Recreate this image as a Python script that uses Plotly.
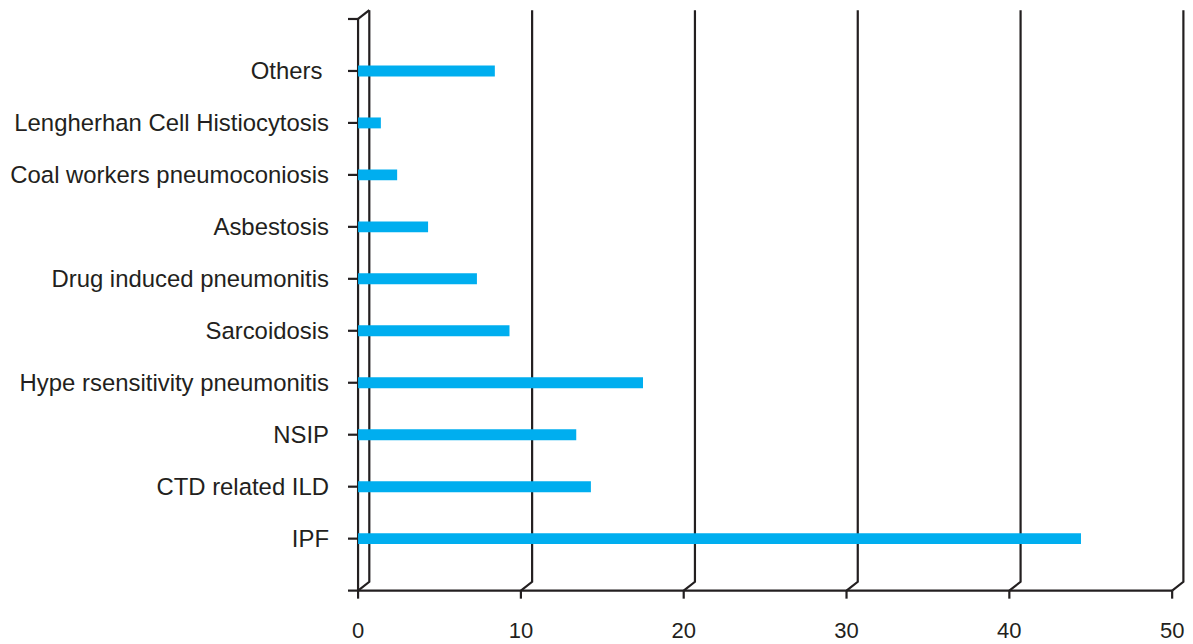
import plotly.graph_objects as go

# Diagnoses, bottom to top, with the share of cases (%) for each
categories = [
    "IPF",
    "CTD related ILD",
    "NSIP",
    "Hype rsensitivity pneumonitis",
    "Sarcoidosis",
    "Drug induced pneumonitis",
    "Asbestosis",
    "Coal workers pneumoconiosis",
    "Lengherhan Cell Histiocytosis",
    "Others\u00a0",
]
values = [44.4, 14.3, 13.4, 17.5, 9.3, 7.3, 4.3, 2.4, 1.4, 8.4]
x_ticks = [0, 10, 20, 30, 40, 50]

INK = "#231f20"
BAR = "#00aeef"
FONT = "Liberation Sans, Arial, sans-serif"

positions = list(range(len(categories)))
y_lo, y_hi = -1, len(categories)          # category slots incl. one empty slot below
depth_x, depth_y = 0.69, 0.17             # pseudo-3D offset of the back wall
x_tick_len, y_tick_len = 0.155, 0.62      # tick lengths in axis units

line = dict(color=INK, width=2.2)
shapes = []

# floor edge (x axis) and left wall edge (y axis)
shapes.append(dict(type="line", xref="x", yref="y", layer="below",
                   x0=x_ticks[0], x1=x_ticks[-1], y0=y_lo, y1=y_lo, line=line))
shapes.append(dict(type="line", xref="x", yref="y", layer="below",
                   x0=0, x1=0, y0=y_lo, y1=y_hi, line=line))
# top corner connecting the axis to the back wall
shapes.append(dict(type="line", xref="x", yref="y", layer="below",
                   x0=0, x1=depth_x, y0=y_hi, y1=y_hi + depth_y, line=line))

for t in x_ticks:
    # back-wall gridline with its perspective foot
    shapes.append(dict(
        type="path", xref="x", yref="y", layer="below", line=line,
        path=(f"M {t},{y_lo} L {t + depth_x},{y_lo + depth_y} "
              f"L {t + depth_x},{y_hi + depth_y}"),
    ))
    # tick mark under the floor edge
    shapes.append(dict(type="line", xref="x", yref="y", layer="below",
                       x0=t, x1=t, y0=y_lo, y1=y_lo - x_tick_len, line=line))

for p in range(y_lo, y_hi + 1):
    shapes.append(dict(type="line", xref="x", yref="y", layer="below",
                       x0=0, x1=-y_tick_len, y0=p, y1=p, line=line))

fig = go.Figure(go.Bar(
    x=values,
    y=positions,
    orientation="h",
    width=0.21,
    marker=dict(color=BAR, line=dict(width=0)),
    hoverinfo="x+text",
    text=categories,
    textposition="none",
))

fig.update_layout(
    width=1193,
    height=644,
    margin=dict(l=347, r=7, t=6, b=43),
    paper_bgcolor="white",
    plot_bgcolor="white",
    showlegend=False,
    shapes=shapes,
    font=dict(family=FONT, color=INK),
    xaxis=dict(
        range=[-0.68, 50.85],
        tickvals=x_ticks,
        ticktext=[str(t) for t in x_ticks],
        showgrid=False, zeroline=False, showline=False, ticks="",
        tickfont=dict(size=22, color=INK, family=FONT),
        ticklabelstandoff=14,
        automargin=False,
    ),
    yaxis=dict(
        range=[-1.2, 10.25],
        tickvals=positions,
        ticktext=categories,
        showgrid=False, zeroline=False, showline=False, ticks="",
        tickfont=dict(size=23.9, color=INK, family=FONT),
        ticklabelstandoff=17,
        automargin=False,
    ),
)

fig.write_html("out.html")
